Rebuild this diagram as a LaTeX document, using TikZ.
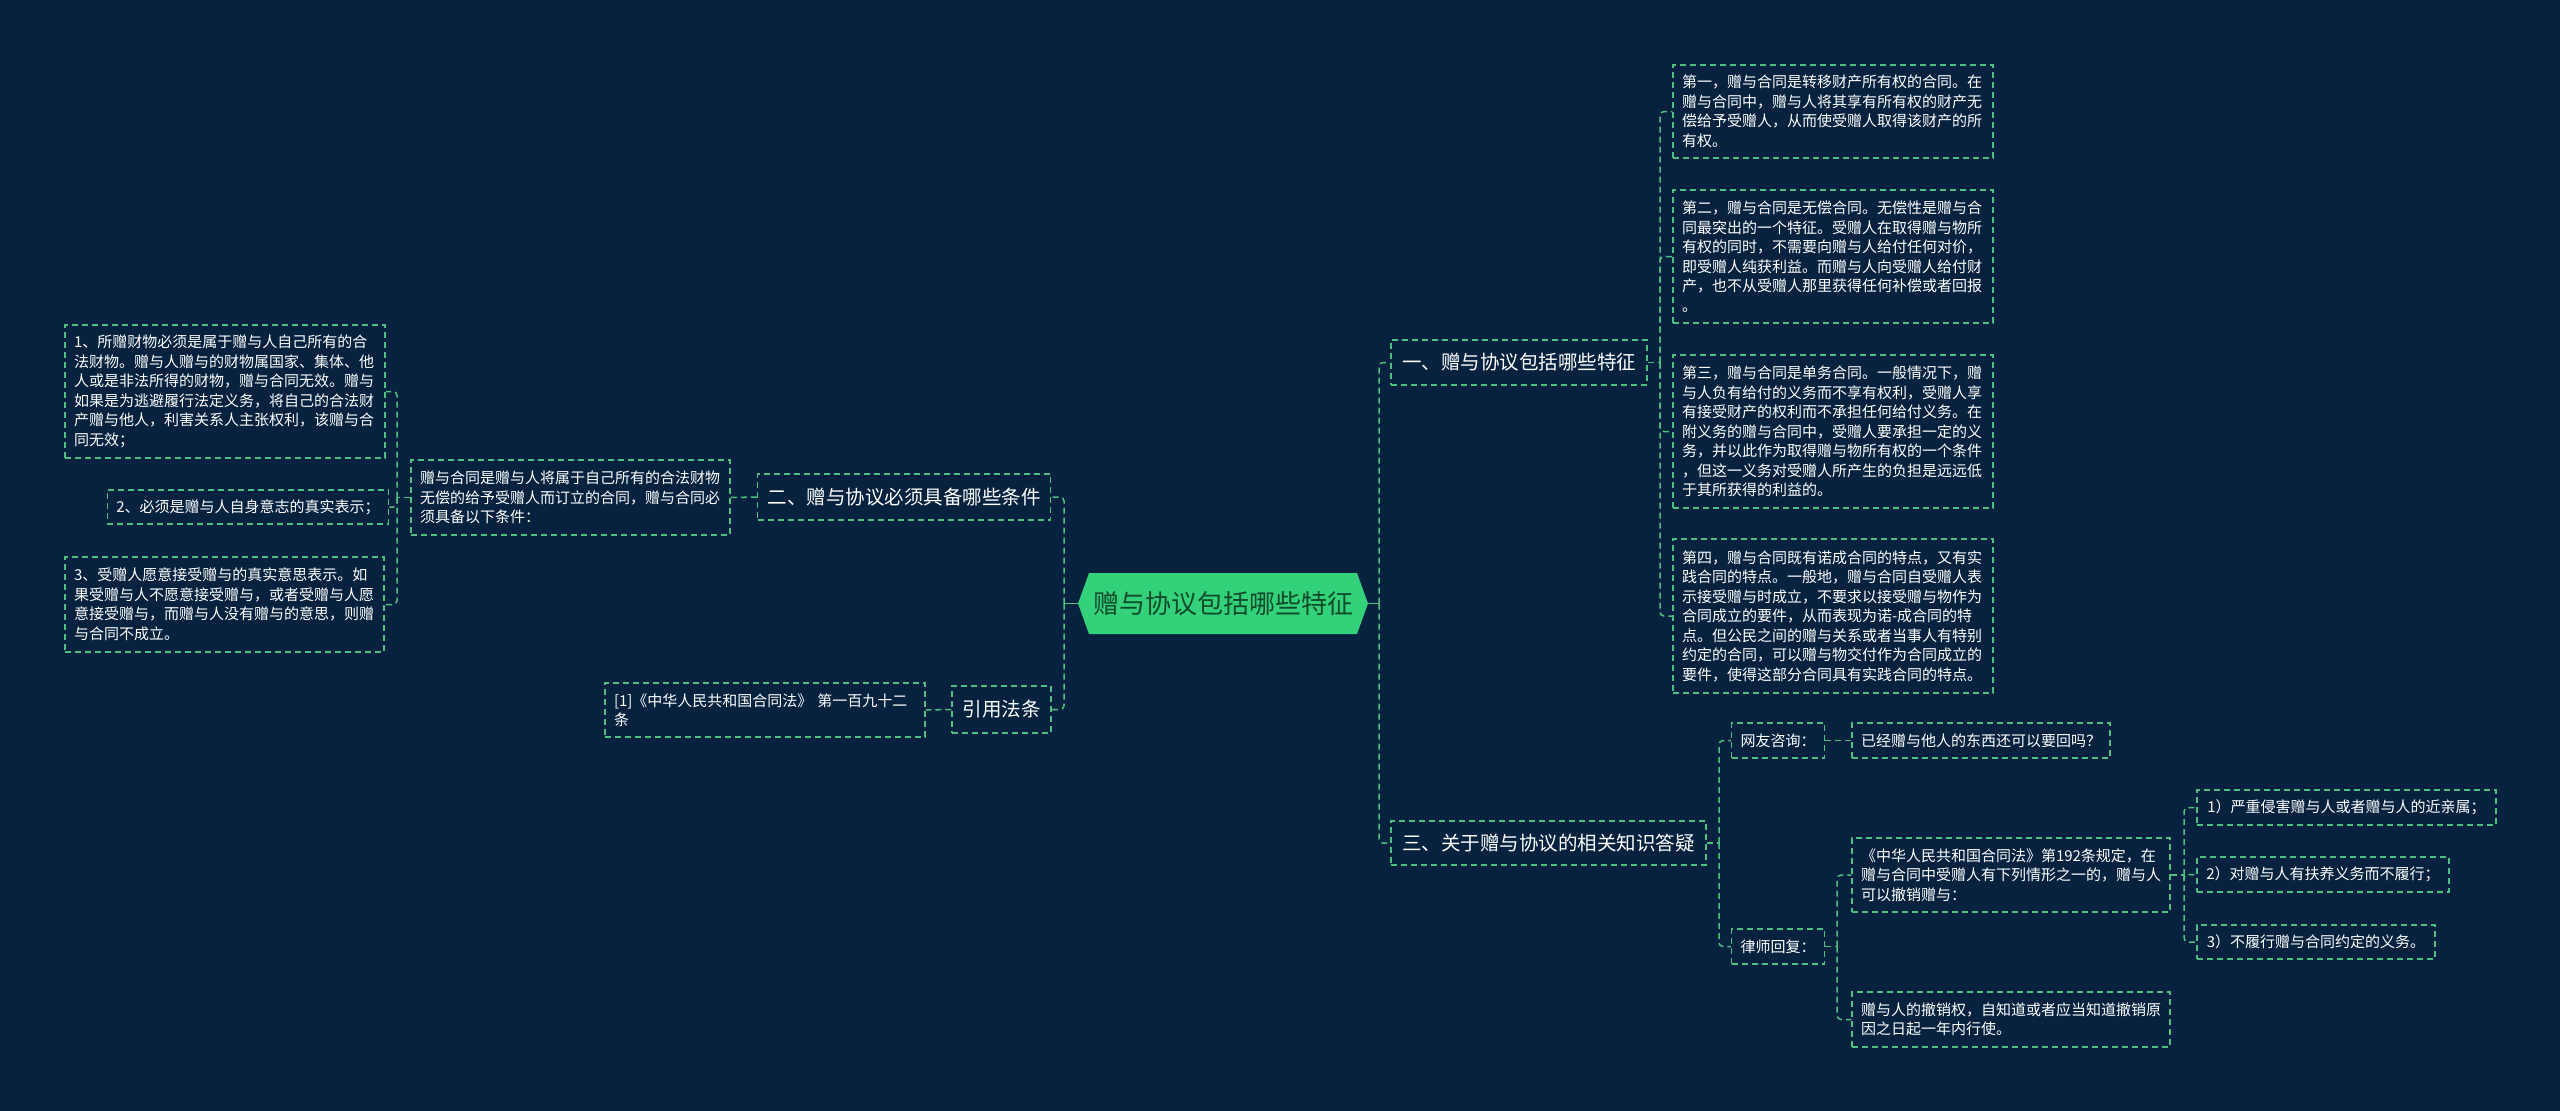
\documentclass[tikz,border=0pt]{standalone}
\usepackage{fontspec}
\setmainfont{Noto Sans CJK SC}
\definecolor{bg}{HTML}{06223F}
\definecolor{ln}{HTML}{4CC080}
\definecolor{cf}{HTML}{33D17A}
\definecolor{ct}{HTML}{0F4A2A}
\begin{document}
\begin{tikzpicture}[x=1pt,y=-1pt,
  dsh/.style={draw=ln, line width=1.5pt, dash pattern=on 6pt off 4pt},
  box/.style={dsh, text=white, inner xsep=9pt, inner ysep=0pt, align=left,
    font=\fontsize{15}{19.5}\selectfont},
  br/.style={dsh, text=white, inner xsep=10pt, inner ysep=0pt,
    font=\fontsize{19.5}{24}\selectfont},
  conn/.style={dsh, rounded corners=4pt},
  stub/.style={draw=ln, line width=1.5pt}]
\fill[bg] (0,0) rectangle (2560,1111);
\useasboundingbox (0,0) rectangle (2560,1111);

% central node
\fill[cf] (1078,603.5) -- (1089,573) -- (1357,573) -- (1368,603.5) -- (1357,634) -- (1089,634) -- cycle;
\node[font=\fontsize{26}{30}\selectfont, text=ct, minimum width=290, minimum height=61, inner sep=0pt] (c) at (1223,603.5) {赠与协议包括哪些特征};

% branches
\node[br, minimum width=256, minimum height=45] (b1) at (1519,362.5) {一、赠与协议包括哪些特征};
\node[br, minimum width=315, minimum height=44] (b3) at (1548.5,843) {三、关于赠与协议的相关知识答疑};
\node[br, minimum width=292, minimum height=46] (b2) at (904,497) {二、赠与协议必须具备哪些条件};
\node[br, minimum width=99, minimum height=47] (r) at (1001.5,709.5) {引用法条};

% branch 1 children
\node[box, minimum width=320, minimum height=93, text width=302] (A) at (1833,111.5) {第一，赠与合同是转移财产所有权的合同。在\\赠与合同中，赠与人将其享有所有权的财产无\\偿给予受赠人，从而使受赠人取得该财产的所\\有权。};
\node[box, minimum width=320, minimum height=133, text width=302] (B) at (1833,256.5) {第二，赠与合同是无偿合同。无偿性是赠与合\\同最突出的一个特征。受赠人在取得赠与物所\\有权的同时，不需要向赠与人给付任何对价，\\即受赠人纯获利益。而赠与人向受赠人给付财\\产，也不从受赠人那里获得任何补偿或者回报\\。};
\node[box, minimum width=320, minimum height=153, text width=302] (C) at (1833,431.5) {第三，赠与合同是单务合同。一般情况下，赠\\与人负有给付的义务而不享有权利，受赠人享\\有接受财产的权利而不承担任何给付义务。在\\附义务的赠与合同中，受赠人要承担一定的义\\务，并以此作为取得赠与物所有权的一个条件\\，但这一义务对受赠人所产生的负担是远远低\\于其所获得的利益的。};
\node[box, minimum width=320, minimum height=154, text width=302] (D) at (1833,616) {第四，赠与合同既有诺成合同的特点，又有实\\践合同的特点。一般地，赠与合同自受赠人表\\示接受赠与时成立，不要求以接受赠与物作为\\合同成立的要件，从而表现为诺-成合同的特\\点。但公民之间的赠与关系或者当事人有特别\\约定的合同，可以赠与物交付作为合同成立的\\要件，使得这部分合同具有实践合同的特点。};

% branch 2 children
\node[box, minimum width=319, minimum height=75, text width=301] (desc) at (570.5,497.5) {赠与合同是赠与人将属于自己所有的合法财物\\无偿的给予受赠人而订立的合同，赠与合同必\\须具备以下条件：};
\node[box, minimum width=320, minimum height=133, text width=302] (L1) at (225,391.5) {1、所赠财物必须是属于赠与人自己所有的合\\法财物。赠与人赠与的财物属国家、集体、他\\人或是非法所得的财物，赠与合同无效。赠与\\如果是为逃避履行法定义务，将自己的合法财\\产赠与他人，利害关系人主张权利，该赠与合\\同无效；};
\node[box, minimum width=272, minimum height=34] (L2) at (248,507) {2、必须是赠与人自身意志的真实表示；};
\node[box, minimum width=319, minimum height=95, text width=301] (L3) at (224.5,604.5) {3、受赠人愿意接受赠与的真实意思表示。如\\果受赠与人不愿意接受赠与，或者受赠与人愿\\意接受赠与，而赠与人没有赠与的意思，则赠\\与合同不成立。};

% reference
\node[box, minimum width=320, minimum height=54, text width=302] (ref) at (765,710) {[1]《中华人民共和国合同法》 第一百九十二\\条};

% branch 3 children
\node[box, minimum width=90, minimum height=35] (q1) at (1778,740.5) {网友咨询：};
\node[box, minimum width=258, minimum height=35] (q2) at (1981,740.5) {已经赠与他人的东西还可以要回吗？};
\node[box, minimum width=90, minimum height=35] (law) at (1778,946.5) {律师回复：};
\node[box, minimum width=318, minimum height=74, text width=300] (M1) at (2011,875) {《中华人民共和国合同法》第192条规定，在\\赠与合同中受赠人有下列情形之一的，赠与人\\可以撤销赠与：};
\node[box, minimum width=318, minimum height=55, text width=300] (M2) at (2011,1019.5) {赠与人的撤销权，自知道或者应当知道撤销原\\因之日起一年内行使。};
\node[box, minimum width=299, minimum height=35] (P1) at (2346.5,807.5) {1）严重侵害赠与人或者赠与人的近亲属；};
\node[box, minimum width=252, minimum height=35] (P2) at (2323,874.5) {2）对赠与人有扶养义务而不履行；};
\node[box, minimum width=238, minimum height=34] (P3) at (2316,942) {3）不履行赠与合同约定的义务。};

% spines
\coordinate (sR) at (1379,603.5);
\coordinate (sL) at (1064,603.5);
\coordinate (s1) at (1660,362.5);
\coordinate (sD) at (397,497.5);
\coordinate (s3) at (1719,843);
\coordinate (s4) at (1837,946.5);
\coordinate (s5) at (2184,875);

% connectors
\draw[stub] (c.east) -- (sR);
\draw[stub] (c.west) -- (sL);
\draw[conn] (sR) |- (b1.west);
\draw[conn] (sR) |- (b3.west);
\draw[conn] (sL) |- (b2.east);
\draw[conn] (sL) |- (r.east);

\draw[conn] (b1.east) -- (s1);
\draw[conn] (s1) |- (A.west);
\draw[conn] (s1) |- (B.west);
\draw[conn] (s1) |- (C.west);
\draw[conn] (s1) |- (D.west);

\draw[conn] (b2.west) -- (desc.east);
\draw[conn] (desc.west) -- (sD);
\draw[conn] (sD) |- (L1.east);
\draw[conn] (sD) |- (L2.east);
\draw[conn] (sD) |- (L3.east);

\draw[conn] (r.west) -- (ref.east);

\draw[conn] (b3.east) -- (s3);
\draw[conn] (s3) |- (q1.west);
\draw[conn] (s3) |- (law.west);
\draw[conn] (q1.east) -- (q2.west);
\draw[conn] (law.east) -- (s4);
\draw[conn] (s4) |- (M1.west);
\draw[conn] (s4) |- (M2.west);
\draw[conn] (M1.east) -- (s5);
\draw[conn] (s5) |- (P1.west);
\draw[conn] (s5) |- (P2.west);
\draw[conn] (s5) |- (P3.west);
\end{tikzpicture}
\end{document}
